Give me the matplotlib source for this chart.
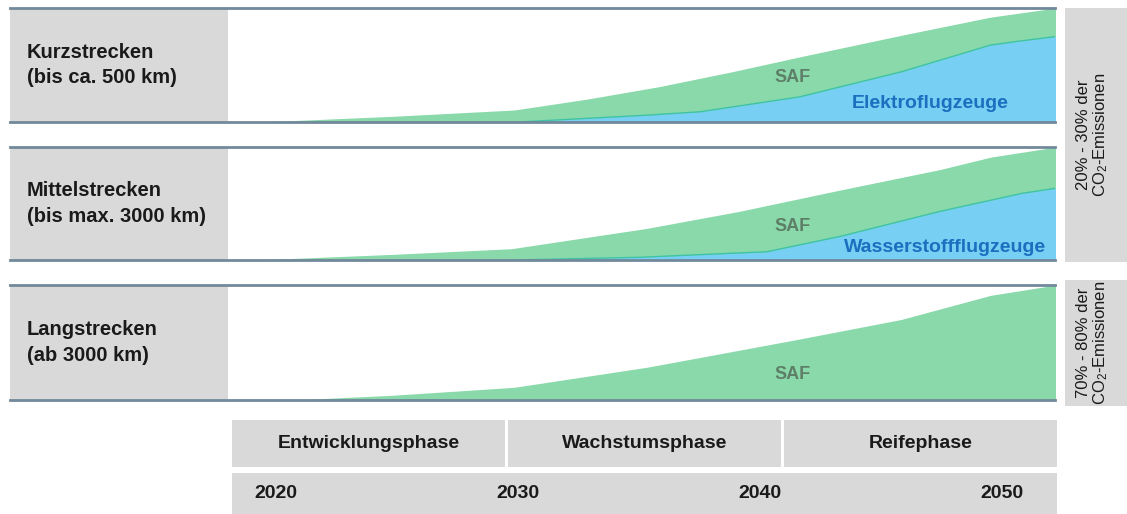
import matplotlib
matplotlib.use('Agg')
import matplotlib.pyplot as plt
from matplotlib.patches import Rectangle

plt.rcParams['font.family'] = ['Liberation Sans', 'DejaVu Sans']
plt.rcParams['mathtext.fontset'] = 'custom'
plt.rcParams['mathtext.rm'] = 'Liberation Sans'
plt.rcParams['mathtext.default'] = 'regular'

# --- Daten ---
panel_labels = ['Kurzstrecken\n(bis ca. 500 km)',
                'Mittelstrecken\n(bis max. 3000 km)',
                'Langstrecken\n(ab 3000 km)']

saf1_years = [2019.5, 2025, 2030, 2033, 2036, 2039, 2042, 2046, 2049.7, 2052.4]
saf1_vals = [0, 0.05, 0.105, 0.2, 0.31, 0.44, 0.58, 0.76, 0.92, 1.0]
elek_years = [2030.2, 2035.5, 2037.7, 2041.8, 2046.0, 2049.7, 2050.9, 2052.4]
elek_vals = [0, 0.06, 0.09, 0.22, 0.44, 0.675, 0.71, 0.75]

saf2_years = [2019.3, 2025, 2029.9, 2035.5, 2039.3, 2043.5, 2047.6, 2049.7, 2052.4]
saf2_vals = [0, 0.05, 0.10, 0.28, 0.43, 0.62, 0.80, 0.91, 1.0]
wasser_years = [2030.0, 2035.2, 2040.45, 2043.5, 2047.6, 2051.0, 2052.4]
wasser_vals = [0, 0.024, 0.073, 0.21, 0.43, 0.59, 0.635]

saf3_years = [2020.8, 2024.9, 2030.0, 2035.5, 2037.7, 2041.8, 2046.0, 2049.7, 2052.4]
saf3_vals = [0, 0.04, 0.11, 0.285, 0.37, 0.53, 0.70, 0.91, 1.0]

phases = ['Entwicklungsphase', 'Wachstumsphase', 'Reifephase']
years = [2020, 2030, 2040, 2050]
share_labels = ['20% - 30% der\nCO$_2$-Emissionen', '70% - 80% der\nCO$_2$-Emissionen']

GREEN = '#89d9aa'
BLUE = '#77d0f4'
GREY = '#d9d9d9'
SPINE = '#71899a'
XLIM = (2009.17, 2052.36)

W, H = 1127, 514
fig = plt.figure(figsize=(W / 100, H / 100), dpi=100)


def fx(px):
    return px / W


def fy(py):
    return 1 - py / H


# Panels: (top px, bottom px)
panel_px = [(8, 122), (147, 260), (285, 400)]
axes = []
for top, bot in panel_px:
    ax = fig.add_axes([fx(10), fy(bot), fx(1055) - fx(10), (bot - top) / H])
    ax.set_xlim(*XLIM)
    ax.set_ylim(0, 1)
    ax.set_xticks([])
    ax.set_yticks([])
    for s in ['left', 'right']:
        ax.spines[s].set_visible(False)
    for s in ['top', 'bottom']:
        ax.spines[s].set_color(SPINE)
        ax.spines[s].set_linewidth(2.0)
        ax.spines[s].set_zorder(5)
    ax.add_patch(Rectangle((0, 0), (228 - 10) / 1045, 1, transform=ax.transAxes,
                           facecolor=GREY, edgecolor='none', zorder=0))
    axes.append(ax)

for ax, lab in zip(axes, panel_labels):
    ax.text(0.0163, 0.5, lab, transform=ax.transAxes, ha='left', va='center',
            fontsize=14.5, fontweight='bold', color='#1a1a1a', linespacing=1.45)

# Kurzstrecken
ax = axes[0]
ax.fill_between(saf1_years, saf1_vals, 0, color=GREEN, lw=0, zorder=1)
ax.fill_between(elek_years, elek_vals, 0, color=BLUE, lw=0, zorder=2)
ax.plot(elek_years, elek_vals, color='#3fc3a5', lw=1, zorder=3)
ax.text(2041.5, 0.39, 'SAF', ha='center', va='center', fontsize=13,
        fontweight='bold', color='#5e7f67', zorder=4)
ax.text(2047.2, 0.16, 'Elektroflugzeuge', ha='center', va='center', fontsize=14,
        fontweight='bold', color='#1b6fbf', zorder=4)

# Mittelstrecken
ax = axes[1]
ax.fill_between(saf2_years, saf2_vals, 0, color=GREEN, lw=0, zorder=1)
ax.fill_between(wasser_years, wasser_vals, 0, color=BLUE, lw=0, zorder=2)
ax.plot(wasser_years, wasser_vals, color='#3fc3a5', lw=1, zorder=3)
ax.text(2041.5, 0.30, 'SAF', ha='center', va='center', fontsize=13,
        fontweight='bold', color='#5e7f67', zorder=4)
ax.text(2047.8, 0.115, 'Wasserstoffflugzeuge', ha='center', va='center', fontsize=14,
        fontweight='bold', color='#1b6fbf', zorder=4)

# Langstrecken
ax = axes[2]
ax.fill_between(saf3_years, saf3_vals, 0, color=GREEN, lw=0, zorder=1)
ax.text(2041.5, 0.22, 'SAF', ha='center', va='center', fontsize=13,
        fontweight='bold', color='#5e7f67', zorder=4)

# Rechte Kästen mit Anteilen
for (top, bot), lab in zip([(8, 262), (280, 406)], share_labels):
    fig.patches.append(Rectangle((fx(1065), fy(bot)), fx(1127) - fx(1065), (bot - top) / H,
                                 transform=fig.transFigure, facecolor=GREY, edgecolor='none',
                                 zorder=-1))
    fig.text(fx(1093), fy((top + bot) / 2), lab, rotation=90, ha='center', va='center',
             fontsize=12, color='#1a1a1a', multialignment='center', linespacing=1.05)

# Phasen
x0, x1, gap = 232, 1057, 3
pw = (x1 - x0 - 2 * gap) / 3
for i, ph in enumerate(phases):
    left = x0 + i * (pw + gap)
    fig.patches.append(Rectangle((fx(left), fy(467)), pw / W, 47 / H,
                                 transform=fig.transFigure, facecolor=GREY, edgecolor='none',
                                 zorder=-1))
    fig.text(fx(left + pw / 2), fy(443), ph, ha='center', va='center',
             fontsize=14, fontweight='bold', color='#1a1a1a')

# Jahresleiste
fig.patches.append(Rectangle((fx(232), 0), fx(1057) - fx(232), 41 / H,
                             transform=fig.transFigure, facecolor=GREY, edgecolor='none',
                             zorder=-1))
tax = fig.add_axes([fx(10), 0, fx(1055) - fx(10), 41 / H])
tax.set_zorder(3)
tax.set_xlim(*XLIM)
tax.set_ylim(0, 1)
tax.axis('off')
for yr in years:
    tax.text(yr + 0.15, 0.5, str(yr), ha='center', va='center', fontsize=14,
             fontweight='bold', color='#1a1a1a')

fig.savefig('out.png', dpi=100)
